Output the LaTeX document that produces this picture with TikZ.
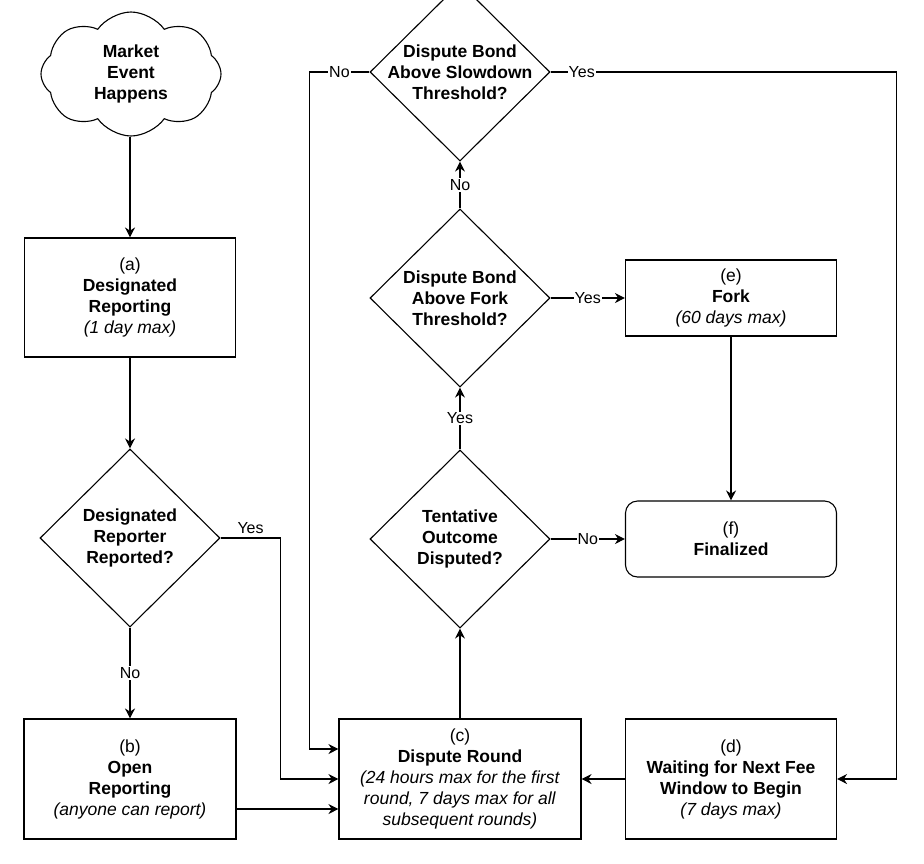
\documentclass[tikz,border=0pt]{standalone}
\usepackage{fontspec}
\setmainfont{Liberation Sans}
\usetikzlibrary{arrows.meta,shapes.geometric,shapes.symbols}
\begin{document}
\begin{tikzpicture}[x=1pt, y=-1pt, >={Stealth[length=10pt,width=10pt]},
    line width=1.1pt,
    every node/.style={font=\fontsize{17.5}{21}\selectfont},
    stage/.style={draw, minimum width=211pt, minimum height=120pt, align=center, inner sep=2pt},
    short/.style={stage, minimum height=76pt},
    decision/.style={draw, diamond, minimum width=180pt, minimum height=178pt, inner sep=0pt},
    question/.style={font=\fontsize{17.5}{21}\selectfont\bfseries, align=center},
    elabel/.style={fill=white, inner sep=1pt, font=\fontsize{16}{19}\selectfont},
    flow/.style={->}]
    \clip (0,0) rectangle (924,863);
    % left column
    \node[cloud, draw, cloud puffs=8, cloud puff arc=110, cloud ignores aspect, minimum width=180pt, minimum height=124pt, align=center, font=\fontsize{17.5}{21}\selectfont\bfseries] (event) at (131,74) {Market\\Event\\Happens};
    \node[stage, minimum height=119pt] (a) at (130,297.5) {(a)\\\textbf{Designated}\\\textbf{Reporting}\\\textit{(1 day max)}};
    \node[decision, label={[question]center:{Designated\\Reporter\\Reported?}}] (dr) at (130,538) {};
    \node[stage, minimum width=212pt] (b) at (130,779) {(b)\\\textbf{Open}\\\textbf{Reporting}\\\textit{(anyone can report)}};
    % middle column
    \node[stage, minimum width=242pt] (c) at (460,779) {(c)\\\textbf{Dispute Round}\\\textit{(24 hours max for the first}\\\textit{round, 7 days max for all}\\\textit{subsequent rounds)}};
    \node[decision, label={[question]center:{Tentative\\Outcome\\Disputed?}}] (dt) at (460,539) {};
    \node[decision, label={[question]center:{Dispute Bond\\Above Fork\\Threshold?}}] (df) at (460,298) {};
    \node[decision, label={[question]center:{Dispute Bond\\Above Slowdown\\Threshold?}}] (ds) at (460,72) {};
    % right column
    \node[short] (e) at (731,298) {(e)\\\textbf{Fork}\\\textit{(60 days max)}};
    \node[short, rounded corners=12pt] (f) at (731,539) {(f)\\\textbf{Finalized}};
    \node[stage] (d) at (731,779) {(d)\\\textbf{Waiting for Next Fee}\\\textbf{Window to Begin}\\\textit{(7 days max)}};
    % connectors
    \draw[flow] (event.south -| a.north) -- (a.north);
    \draw[flow] (a) -- (dr);
    \draw[flow] (dr) -- node[elabel]{No} (b);
    \draw[flow] (dr.east) -- node[above, font=\fontsize{16}{19}\selectfont]{Yes} ++(60,0) |- (c.west);
    \draw[flow] ([yshift=-30pt]b.east) -- ([yshift=-30pt]c.west);
    \draw[flow] (c) -- (dt);
    \draw[flow] (dt) -- node[elabel]{No} (f);
    \draw[flow] (dt) -- node[elabel]{Yes} (df);
    \draw[flow] (df) -- node[elabel]{Yes} (e);
    \draw[flow] (df) -- node[elabel]{No} (ds);
    \draw[flow] (e) -- (f);
    \draw[flow] (d) -- (c);
    \draw[flow] (ds.west) -- node[elabel]{No} ++(-60,0) |- ([yshift=30pt]c.west);
    \draw[flow] (ds.east) -- node[elabel, pos=0.09]{Yes} ++(346,0) |- (d.east);
\end{tikzpicture}
\end{document}
